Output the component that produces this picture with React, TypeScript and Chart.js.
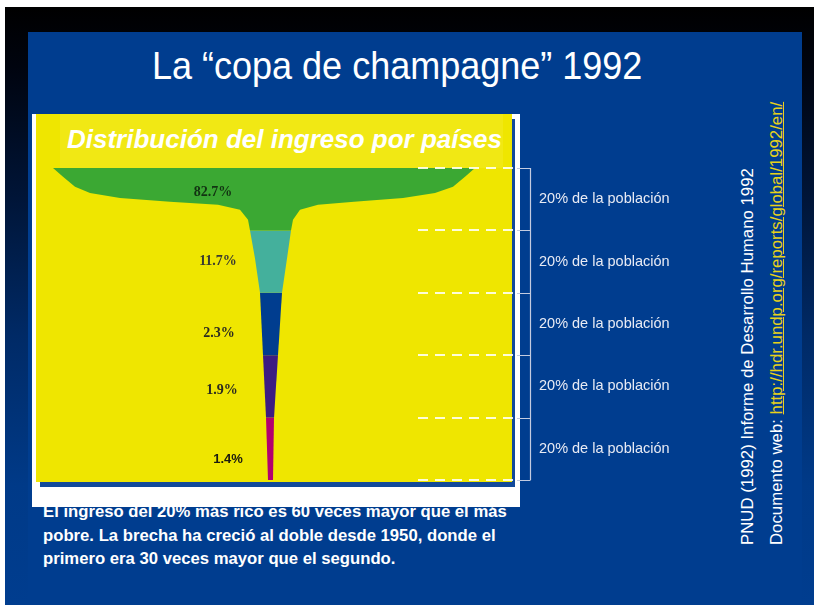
import React, { useEffect, useRef } from 'react';
import { Chart, registerables } from 'chart.js';

Chart.register(...registerables);

// ---- data ----
const quintiles = ['20% más rico', 'Segundo 20%', 'Tercer 20%', 'Cuarto 20%', '20% más pobre'];
const incomeShare = [82.7, 11.7, 2.3, 1.9, 1.4];
const populationLabels = [
  '20% de la población',
  '20% de la población',
  '20% de la población',
  '20% de la población',
  '20% de la población',
];
const quintileBoundaries = [0, 1, 2, 3, 4, 5];
// outline of the "glass": depth in quintiles (0 = rim) and edge offsets from the stem axis
const glassDepth = [0, 0.14, 0.3, 0.4, 0.48, 0.54, 0.59, 0.67, 0.83, 1, 1.45, 2, 3, 4, 5];
const glassLeft = [-217, -207, -195, -180, -150, -100, -52, -30, -22, -20, -15, -10, -7, -4, -2];
const glassRight = [205, 195, 183, 165, 133, 84, 48, 30, 23, 21, 17, 12, 8, 4, 3];

// ---- styles ----
const bandColors = ['#3ba833', '#44b09c', '#003d8f', '#3c1c82', '#b3006f'];
const labelColors = ['#123312', '#3a3a30', '#2a2a20', '#2a2a20', '#1a1a10'];
const labelFonts = [
  'bold 14px "Liberation Serif", "Times New Roman", serif',
  'bold 14px "Liberation Serif", "Times New Roman", serif',
  'bold 14px "Liberation Serif", "Times New Roman", serif',
  'bold 14px "Liberation Serif", "Times New Roman", serif',
  'bold 13px "Liberation Sans", Arial, sans-serif',
];
const labelDx = [-57, -52, -51, -48, -42];
const labelDy = [-7, 0, 9, 4, 11];

const SANS = '"Liberation Sans", Arial, Helvetica, sans-serif';

const guidesPlugin = {
  id: 'glassGuides',
  afterDatasetsDraw(chart: any) {
    const { ctx, chartArea, scales } = chart;
    const xs = scales.x;
    const ys = scales.y;
    ctx.save();
    ctx.strokeStyle = 'rgba(255,255,235,0.92)';
    ctx.lineWidth = 2;
    ctx.setLineDash([10, 7]);
    quintileBoundaries.forEach((b) => {
      const y = Math.round(ys.getPixelForValue(b));
      ctx.beginPath();
      ctx.moveTo(chartArea.right - 112, y);
      ctx.lineTo(chartArea.right - 15, y);
      ctx.stroke();
    });
    ctx.setLineDash([]);
    ctx.strokeStyle = '#c3cbe0';
    ctx.lineWidth = 1.2;
    ctx.beginPath();
    const top = Math.round(ys.getPixelForValue(quintileBoundaries[0]));
    const bottom = Math.round(ys.getPixelForValue(quintileBoundaries[quintileBoundaries.length - 1]));
    ctx.moveTo(chartArea.right + 0.5, top);
    ctx.lineTo(chartArea.right + 0.5, bottom);
    quintileBoundaries.forEach((b) => {
      const y = Math.round(ys.getPixelForValue(b)) + 0.5;
      ctx.moveTo(chartArea.right - 13, y);
      ctx.lineTo(chartArea.right + 0.5, y);
    });
    ctx.stroke();
    ctx.textAlign = 'center';
    ctx.textBaseline = 'middle';
    incomeShare.forEach((v, i) => {
      ctx.font = labelFonts[i];
      ctx.fillStyle = labelColors[i];
      ctx.fillText(
        `${v}%`,
        xs.getPixelForValue(0) + labelDx[i],
        ys.getPixelForValue(i + 0.5) + labelDy[i]
      );
    });
    ctx.restore();
  },
};

export default function App() {
  const ref = useRef<HTMLCanvasElement>(null);

  useEffect(() => {
    const datasets = incomeShare.map((share, k) => {
      const idx = glassDepth
        .map((_, i) => i)
        .filter((i) => glassDepth[i] >= quintileBoundaries[k] && glassDepth[i] <= quintileBoundaries[k + 1]);
      const left = idx.map((i) => ({ x: glassLeft[i], y: glassDepth[i] }));
      const right = idx
        .slice()
        .reverse()
        .map((i) => ({ x: glassRight[i], y: glassDepth[i] }));
      return {
        label: `${quintiles[k]} (${share}%)`,
        data: [...left, ...right],
        fill: 'shape',
        backgroundColor: bandColors[k],
        borderColor: bandColors[k],
        borderWidth: 0,
        pointRadius: 0,
        tension: 0,
        yAxisID: 'y',
        xAxisID: 'x',
      };
    });

    const chart = new Chart(ref.current as HTMLCanvasElement, {
      type: 'line',
      data: { datasets: datasets as any },
      plugins: [guidesPlugin],
      options: {
        responsive: false,
        animation: false,
        devicePixelRatio: 1,
        layout: { padding: { left: 36, top: 168, bottom: 125, right: 134 } },
        plugins: {
          legend: { display: false },
          tooltip: { enabled: false },
          title: { display: false },
        },
        scales: {
          x: { type: 'linear', display: false, min: -234, max: 260 },
          y: { type: 'linear', display: false, min: 0, max: 5, reverse: true },
          yq: {
            type: 'category',
            position: 'right',
            labels: populationLabels,
            offset: true,
            grid: { display: false, drawTicks: false },
            border: { display: false },
            ticks: {
              padding: 9,
              color: '#e8ebf4',
              font: { family: SANS, size: 14.5 },
            },
            afterFit: (scale: any) => {
              scale.width = 150;
            },
          },
        } as any,
      },
    });
    return () => chart.destroy();
  }, []);

  return (
    <div
      style={{
        position: 'fixed',
        left: 0,
        top: 0,
        width: 814,
        height: 605,
        overflow: 'hidden',
        background: '#ffffff',
        fontFamily: SANS,
      }}
    >
      <div
        style={{
          position: 'absolute',
          left: 5,
          top: 7,
          right: 0,
          bottom: 0,
          background:
            'linear-gradient(180deg, #000000 0%, #00040f 10%, #001538 32%, #002a66 55%, #003a88 80%, #003d8f 100%)',
        }}
      />
      <div style={{ position: 'absolute', left: 28, top: 32, width: 774, bottom: 0, background: '#003d8f' }} />

      <div
        style={{
          position: 'absolute',
          left: 152,
          top: 48,
          fontSize: 36,
          lineHeight: '36px',
          color: '#ffffff',
          whiteSpace: 'nowrap',
          transform: 'scaleY(1.06)',
          transformOrigin: '0 50%',
        }}
      >
        La “copa de champagne” 1992
      </div>

      <div
        style={{
          position: 'absolute',
          left: 43,
          top: 500,
          fontSize: 16.7,
          lineHeight: '23.5px',
          fontWeight: 'bold',
          color: '#ffffff',
          whiteSpace: 'nowrap',
        }}
      >
        <div>El ingreso del 20% más rico es 60 veces mayor que el más</div>
        <div>pobre. La brecha ha creció al doble desde 1950, donde el</div>
        <div>primero era 30 veces mayor que el segundo.</div>
      </div>

      <div style={{ position: 'absolute', left: 32, top: 114, width: 488, height: 393, background: '#ffffff' }} />
      <div style={{ position: 'absolute', left: 40, top: 119, width: 475, height: 368, background: '#134a9a' }} />
      <div style={{ position: 'absolute', left: 36, top: 114, width: 476, height: 368, background: '#efe600' }} />
      <div style={{ position: 'absolute', left: 60, top: 114, width: 443, height: 54, background: '#f1e814' }} />
      <div
        style={{
          position: 'absolute',
          left: 67,
          top: 124,
          fontSize: 26,
          lineHeight: '30px',
          fontWeight: 'bold',
          fontStyle: 'italic',
          color: '#ffffff',
          whiteSpace: 'nowrap',
        }}
      >
        Distribución del ingreso por países
      </div>

      <div
        style={{
          position: 'absolute',
          left: 734,
          top: 545,
          transform: 'rotate(-90deg)',
          transformOrigin: '0 0',
          whiteSpace: 'nowrap',
          fontSize: 16.8,
          lineHeight: '28.5px',
          color: '#ffffff',
        }}
      >
        <div>PNUD (1992) Informe de Desarrollo Humano 1992</div>
        <div>
          Documento web:{' '}
          <span style={{ color: '#e8d21a', textDecoration: 'underline' }}>
            http://hdr.undp.org/reports/global/1992/en/
          </span>
        </div>
      </div>

      <canvas
        ref={ref}
        width={814}
        height={605}
        style={{ position: 'absolute', left: 0, top: 0, width: 814, height: 605 }}
      />
    </div>
  );
}
